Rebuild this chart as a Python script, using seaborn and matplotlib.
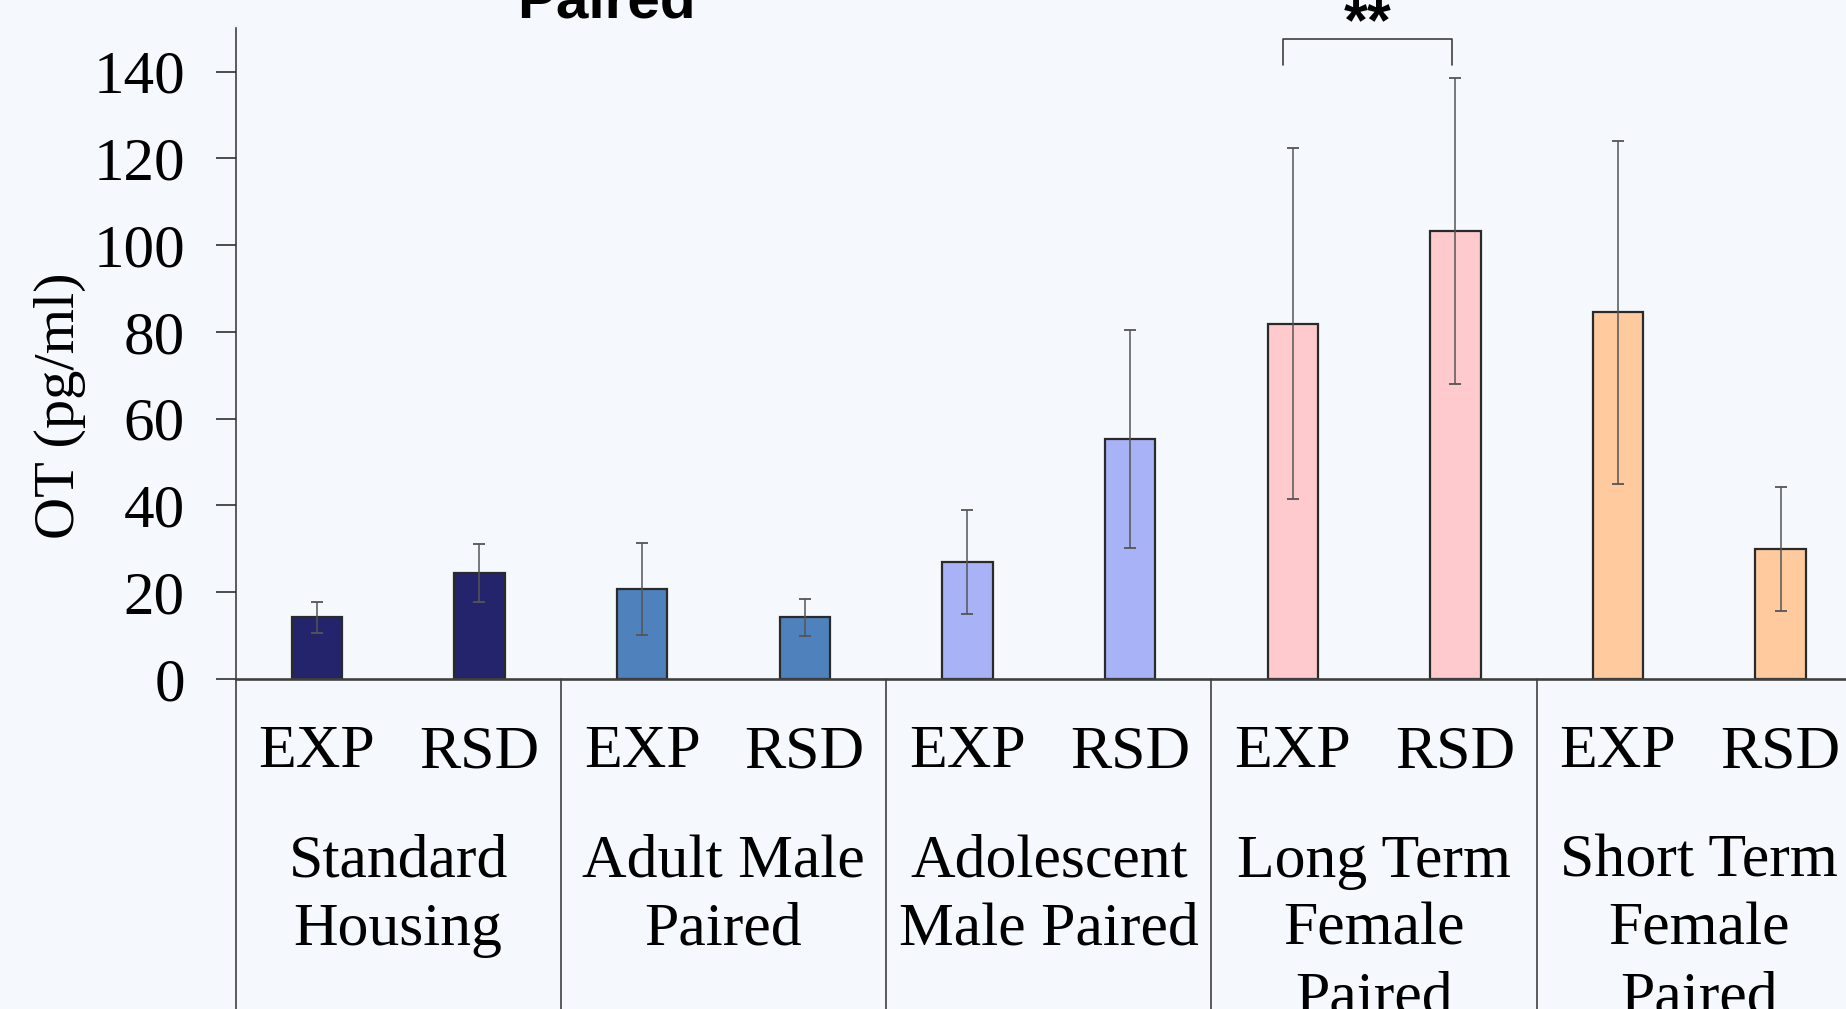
import matplotlib
matplotlib.use("Agg")
import matplotlib.pyplot as plt
import matplotlib.transforms as mtrans
import seaborn as sns
import pandas as pd

# ---- data ----
groups = ["Standard\nHousing", "Adult Male\nPaired", "Adolescent\nMale Paired",
          "Long Term\nFemale\nPaired", "Short Term\nFemale\nPaired"]
conditions = ["EXP", "RSD"]
means = [14.2, 24.4, 20.7, 14.2, 27.0, 55.3, 81.9, 103.2, 84.5, 30.0]
errors = [3.5, 6.7, 10.6, 4.2, 12.0, 25.1, 40.5, 35.3, 39.6, 14.3]
group_colors = ["#23246b", "#4f81bd", "#a8b3f7", "#ffcacd", "#ffcb9e"]
yticks = [0, 20, 40, 60, 80, 100, 120, 140]
y_label = "OT (pg/ml)"
title_text = "Paired"
sig_text = "**"
sig_pair = (6, 7)

rows = []
for gi, g in enumerate(groups):
    for c in conditions:
        rows.append({"cond": f"{g} {c}", "group": g, "label": c})
df = pd.DataFrame(rows)
df["mean"] = means
df["err"] = errors

bg = "#f5f9fd"
sns.set_style("ticks")
plt.rcParams["font.family"] = ["Liberation Serif", "DejaVu Serif"]
plt.rcParams["text.color"] = "black"
plt.rcParams["xtick.color"] = "black"
plt.rcParams["ytick.color"] = "black"
plt.rcParams["axes.labelcolor"] = "black"

fig = plt.figure(figsize=(18.46, 10.09), dpi=100, facecolor=bg)
W, H = 1846, 1009
x0, x1 = 235.5, 1862.0
y0, ytop = 679.0, 28.3
ax = fig.add_axes([x0 / W, 1 - y0 / H, (x1 - x0) / W, (y0 - ytop) / H])
ax.set_facecolor(bg)

sns.barplot(data=df, x="cond", y="mean", hue="group", palette=group_colors,
            saturation=1, dodge=False, width=0.31, edgecolor="#2a2a2a",
            linewidth=1.6, errorbar=None, legend=False, ax=ax)
xs = list(range(len(df)))
ax.errorbar(xs, df["mean"], yerr=df["err"], fmt="none", ecolor="#555555",
            elinewidth=1.1, capsize=4.5, capthick=1.3, zorder=5)

ax.set_xlim(-0.5, len(df) - 0.5)
ax.set_ylim(0, 150)
ax.set_yticks(yticks)
ax.set_yticklabels([str(t) for t in yticks], fontsize=44)
ax.tick_params(axis="y", direction="out", length=14.4, width=1.2, color="#303030", pad=22)
ax.set_xticks(xs)
ax.set_xticklabels(df["label"], fontsize=44.5)
ax.tick_params(axis="x", length=0, pad=33)
ax.set_xlabel("")
ax.set_ylabel(y_label, fontsize=42)
ax.yaxis.set_label_coords(-0.092, 0.42)

for s in ["top", "right"]:
    ax.spines[s].set_visible(False)
ax.spines["left"].set_linewidth(1.1)
ax.spines["left"].set_color("#303030")
ax.spines["bottom"].set_linewidth(1.9)
ax.spines["bottom"].set_color("#404040")

# group separators below the axis
tr = mtrans.blended_transform_factory(ax.transData, ax.transAxes)
for k in range(len(groups)):
    xb = 2 * k - 0.5
    ax.plot([xb, xb], [0, -1], transform=tr, color="#303030", lw=1.1, clip_on=False)

# group labels
trf = mtrans.blended_transform_factory(ax.transData, fig.transFigure)
for k, g in enumerate(groups):
    ax.text(2 * k + 0.5, 1 - 834 / H, g, transform=trf, ha="center", va="top",
            fontsize=44.5, linespacing=1.3, multialignment="center", clip_on=False)

# significance bracket
a, b = sig_pair
la, lb = a - 0.06, b - 0.02
ax.plot([la, la, lb, lb], [141.5, 147.5, 147.5, 141.5], color="#404040", lw=1.2,
        clip_on=False)
ax.text((la + lb) / 2, 147.3, sig_text, ha="center", va="baseline", fontsize=44,
        fontweight="bold", family=["Liberation Sans", "DejaVu Sans"], clip_on=False)

fig.text(606.5 / W, 1 - 18 / H, title_text, ha="center", va="baseline", fontsize=42,
         fontweight="bold", family=["Liberation Sans", "DejaVu Sans"])

fig.savefig("out.png", dpi=100, facecolor=bg)
